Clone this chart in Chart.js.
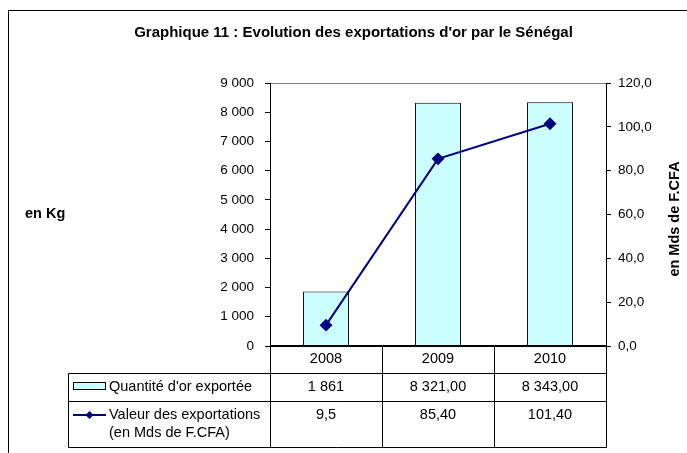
<!DOCTYPE html>
<html>
<head>
<meta charset="utf-8">
<script src="https://cdn.jsdelivr.net/npm/chart.js@4/dist/chart.umd.min.js"></script>
<style>
  html, body { margin: 0; padding: 0; background: #fff; }
  #wrap { width: 687px; height: 453px; position: relative; }
</style>
</head>
<body>
<div id="wrap"><canvas id="chart" width="687" height="453"></canvas></div>
<script>
const years = ['2008', '2009', '2010'];
const quantite = [1861, 8321, 8343];
const valeur = [9.5, 85.4, 101.4];
const quantiteLabels = ['1 861', '8 321,00', '8 343,00'];
const valeurLabels = ['9,5', '85,40', '101,40'];

const FONT = '"Liberation Sans", Arial, sans-serif';

function thousands(v) {
    return String(v).replace(/\B(?=(\d{3})+(?!\d))/g, ' ');
}

// axis titles, data table and frame drawn around the plot
const extras = {
    id: 'extras',
    beforeDraw(chart) {
        const c = chart.ctx;
        c.save();
        c.fillStyle = '#fff';
        c.fillRect(0, 0, chart.width, chart.height);
        c.strokeStyle = '#000';
        c.lineWidth = 1;
        c.strokeRect(8.5, 10.5, 700, 500);
        c.restore();
    },
    afterDraw(chart) {
        const c = chart.ctx;
        const area = chart.chartArea;
        const x = chart.scales.x;
        c.save();
        c.fillStyle = '#000';
        c.font = 'bold 14.5px ' + FONT;
        c.textBaseline = 'middle';
        c.textAlign = 'left';
        c.fillText('en Kg', 25, 214);

        c.save();
        c.translate(675, 219);
        c.rotate(-Math.PI / 2);
        c.textAlign = 'center';
        c.fillText('en Mds de F.CFA', 0, 0);
        c.restore();

        // zero line
        c.strokeStyle = '#000';
        c.lineWidth = 2;
        c.beginPath();
        c.moveTo(area.left, area.bottom);
        c.lineTo(area.right, area.bottom);
        c.stroke();

        // data table
        const top = area.bottom;
        const r1 = 373.5, r2 = 401.5, bottom = 447.5, tLeft = 68.5;
        const step = (area.right - area.left) / years.length;
        c.lineWidth = 1;
        c.beginPath();
        for (let i = 0; i <= years.length; i++) {
            const xx = Math.round(area.left + i * step) + 0.5;
            c.moveTo(xx, top);
            c.lineTo(xx, bottom);
        }
        c.moveTo(tLeft, r1); c.lineTo(area.right, r1);
        c.moveTo(tLeft, r2); c.lineTo(area.right, r2);
        c.moveTo(tLeft, bottom); c.lineTo(area.right + 0.5, bottom);
        c.moveTo(tLeft, r1); c.lineTo(tLeft, bottom);
        c.stroke();

        c.font = '14.5px ' + FONT;
        c.textAlign = 'center';
        years.forEach((y, i) => {
            const cx = x.getPixelForValue(i);
            c.fillText(y, cx, 359);
            c.fillText(quantiteLabels[i], cx, 387);
            c.fillText(valeurLabels[i], cx, 415);
        });

        // legend keys
        c.fillStyle = '#CCFFFF';
        c.fillRect(73.5, 382.5, 32, 7);
        c.strokeRect(73.5, 382.5, 32, 7);
        c.strokeStyle = '#000080';
        c.lineWidth = 2;
        c.beginPath();
        c.moveTo(73, 415); c.lineTo(106, 415);
        c.stroke();
        c.fillStyle = '#000080';
        c.beginPath();
        c.moveTo(89.5, 411); c.lineTo(93.5, 415); c.lineTo(89.5, 419); c.lineTo(85.5, 415);
        c.closePath();
        c.fill();

        c.fillStyle = '#000';
        c.textAlign = 'left';
        c.fillText("Quantité d'or exportée", 109, 387);
        c.fillText('Valeur des exportations', 109, 415);
        c.fillText('(en Mds de F.CFA)', 109, 433);
        c.restore();
    }
};

new Chart(document.getElementById('chart'), {
    data: {
        labels: years,
        datasets: [{
            type: 'line',
            label: 'Valeur des exportations (en Mds de F.CFA)',
            data: valeur,
            yAxisID: 'y1',
            borderColor: '#000080',
            backgroundColor: '#000080',
            borderWidth: 2,
            pointStyle: 'rectRot',
            pointRadius: 5,
            pointHoverRadius: 5,
            tension: 0,
            order: 0
        }, {
            type: 'bar',
            label: "Quantité d'or exportée",
            data: quantite,
            yAxisID: 'y',
            backgroundColor: '#CCFFFF',
            borderColor: '#000',
            borderWidth: 1,
            categoryPercentage: 1,
            barPercentage: 0.41,
            order: 1
        }]
    },
    options: {
        responsive: false,
        animation: false,
        layout: {
            padding: { left: 20, right: 0, top: 10, bottom: 107 }
        },
        plugins: {
            legend: { display: false },
            tooltip: { enabled: false },
            title: {
                display: true,
                text: "Graphique 11 : Evolution des exportations d'or par le Sénégal",
                color: '#000',
                font: { family: FONT, size: 15, weight: 'bold' },
                padding: { top: 14, bottom: 41 }
            }
        },
        scales: {
            x: {
                display: false,
                offset: true
            },
            y: {
                position: 'left',
                min: 0,
                max: 9000,
                afterFit(s) { s.width = 250; },
                ticks: {
                    stepSize: 1000,
                    padding: 11,
                    color: '#000',
                    font: { family: FONT, size: 13.5 },
                    callback: v => thousands(v)
                },
                grid: {
                    color: ctx => ctx.tick && ctx.tick.value === 9000 ? '#808080' : 'transparent',
                    tickColor: '#000',
                    tickLength: 5,
                    tickWidth: 1
                },
                border: { color: '#000', width: 1 }
            },
            y1: {
                position: 'right',
                min: 0,
                max: 120,
                afterFit(s) { s.width = 81; },
                ticks: {
                    stepSize: 20,
                    padding: 7,
                    color: '#000',
                    font: { family: FONT, size: 13.5 },
                    callback: v => v.toFixed(1).replace('.', ',')
                },
                grid: {
                    drawOnChartArea: false,
                    tickColor: '#000',
                    tickLength: 5
                },
                border: { color: '#000', width: 1 }
            }
        }
    },
    plugins: [extras]
});
</script>
</body>
</html>
